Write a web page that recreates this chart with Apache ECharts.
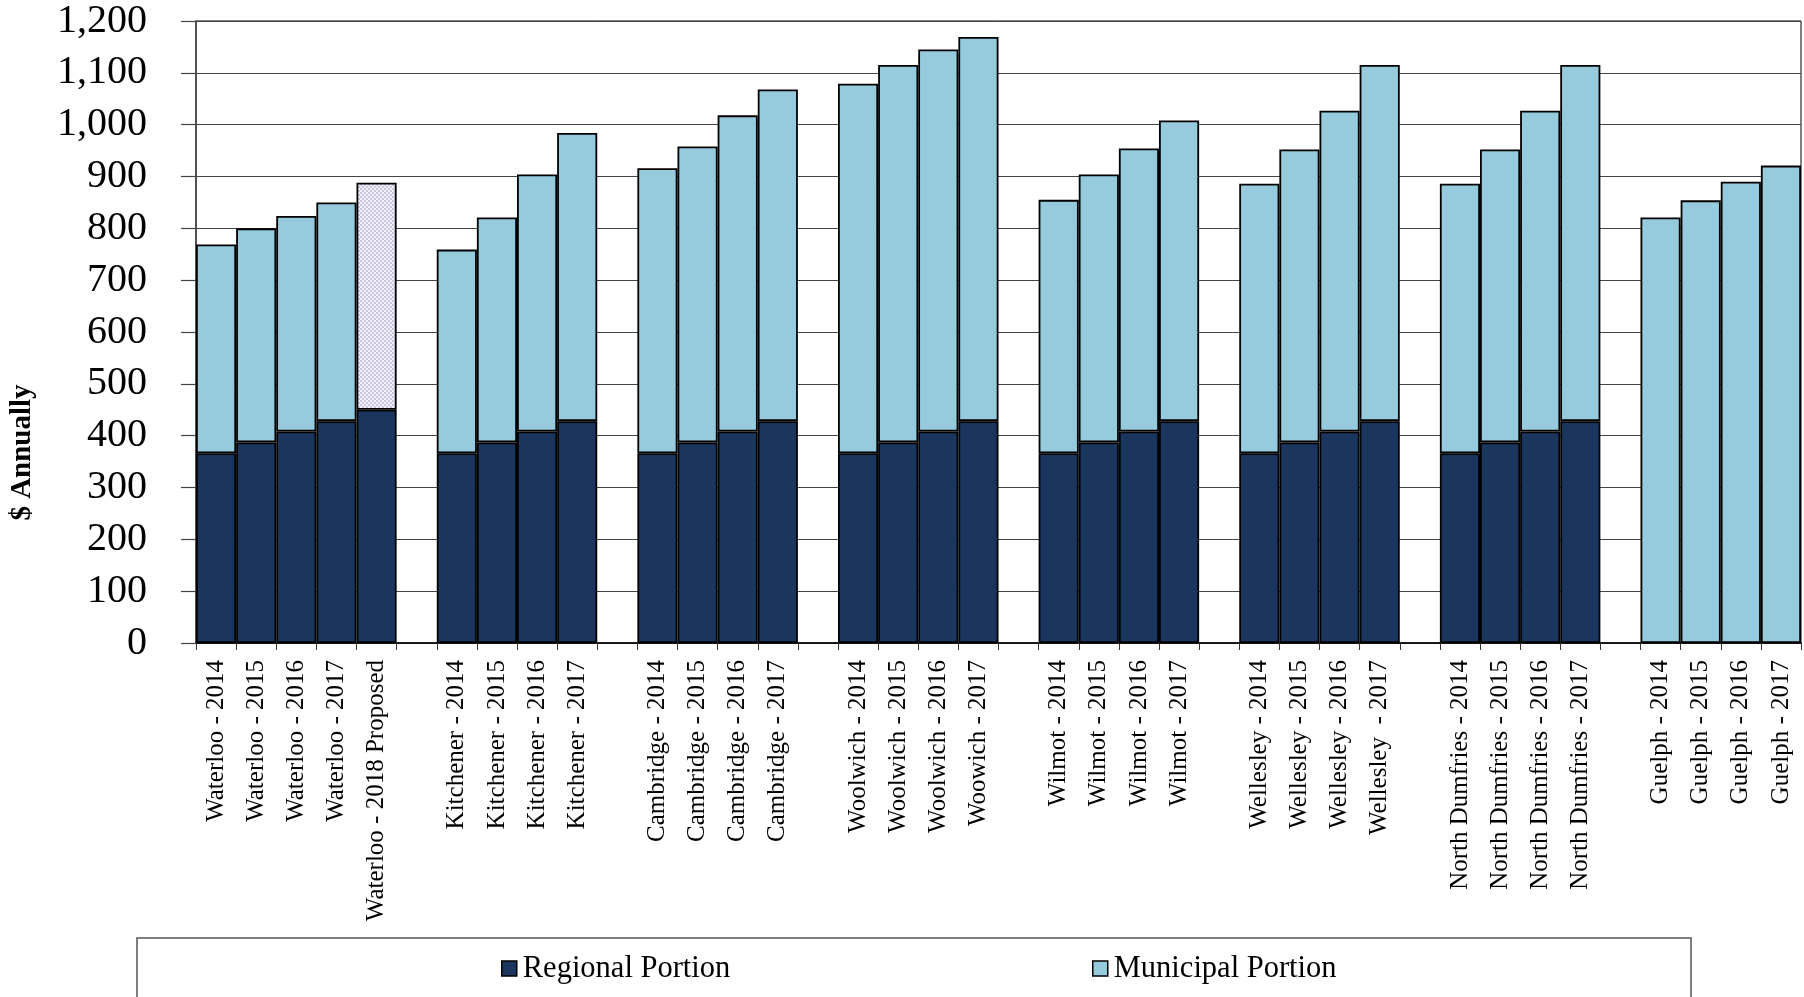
<!DOCTYPE html>
<html>
<head>
<meta charset="utf-8">
<script src="https://cdn.jsdelivr.net/npm/echarts@6/dist/echarts.min.js"></script>
<style>
html,body{margin:0;padding:0;background:#fff;}
#chart{width:1804px;height:997px;}
</style>
</head>
<body>
<div id="chart"></div>
<script>
// ---- Data ----
const categories = [
  'Waterloo - 2014','Waterloo - 2015','Waterloo - 2016','Waterloo - 2017','Waterloo - 2018 Proposed','',
  'Kitchener - 2014','Kitchener - 2015','Kitchener - 2016','Kitchener - 2017','',
  'Cambridge - 2014','Cambridge - 2015','Cambridge - 2016','Cambridge - 2017','',
  'Woolwich - 2014','Woolwich - 2015','Woolwich - 2016','Woowich - 2017','',
  'Wilmot - 2014','Wilmot - 2015','Wilmot - 2016','Wilmot - 2017','',
  'Wellesley - 2014','Wellesley - 2015','Wellesley - 2016','Wellesley  - 2017','',
  'North Dumfries - 2014','North Dumfries - 2015','North Dumfries - 2016','North Dumfries - 2017','',
  'Guelph - 2014','Guelph - 2015','Guelph - 2016','Guelph - 2017'
];
const regionalPortion = [
  366,387,408,428,450,null,
  366,387,408,428,null,
  366,387,408,428,null,
  366,387,408,428,null,
  366,387,408,428,null,
  366,387,408,428,null,
  366,387,408,428,null,
  null,null,null,null
];
const municipalPortion = [
  403,413,416,422,438,null,
  393,434,496,556,null,
  550,571,610,640,null,
  713,728,737,741,null,
  489,517,546,580,null,
  520,565,619,687,null,
  520,565,619,687,null,
  821,854,890,921
];
const proposedIndex = 4;
const yTicks = {min:0, max:1200, interval:100};
const seriesNames = ['Regional Portion','Municipal Portion'];

// ---- Styles ----
const FONT = "'Liberation Serif', 'Times New Roman', serif";
const NAVY = '#1b365e';
const LIGHT = '#95cbdc';

function makePattern(){
  const c = document.createElement('canvas');
  c.width = 4; c.height = 4;
  const g = c.getContext('2d');
  g.fillStyle = '#f3f1f9'; g.fillRect(0,0,4,4);
  g.fillStyle = '#cbc3e3';
  g.fillRect(0,0,2,2); g.fillRect(2,2,2,2);
  return {image: c, repeat: 'repeat'};
}
const pattern = makePattern();

const muniData = municipalPortion.map((v,i)=> i===proposedIndex
  ? {value: v, itemStyle: {color: pattern}} : v);

const chart = echarts.init(document.getElementById('chart'), null, {renderer:'canvas'});
chart.setOption({
  animation: false,
  backgroundColor: '#fff',
  grid: {left: 196, right: 3, top: 21, bottom: 354, show: true, borderColor: '#000', borderWidth: 1, containLabel: false},
  legend: [
    {data: [seriesNames[0]], left: 501, top: 953, padding: 0, itemWidth: 15, itemHeight: 15, itemGap: 0,
     icon: 'rect', itemStyle: {borderColor: '#000', borderWidth: 1.5},
     textStyle: {fontFamily: FONT, fontSize: 30.5, color: '#000', padding: [0,0,0,1]}},
    {data: [seriesNames[1]], left: 1092, top: 953, padding: 0, itemWidth: 15, itemHeight: 15, itemGap: 0,
     icon: 'rect', itemStyle: {borderColor: '#000', borderWidth: 1.5},
     textStyle: {fontFamily: FONT, fontSize: 30.5, color: '#000', padding: [0,0,0,1]}}
  ],
  xAxis: {
    type: 'category',
    data: categories,
    boundaryGap: true,
    axisLine: {show: true, lineStyle: {color: '#000', width: 1.5}},
    axisTick: {show: true, interval: 0, length: 7, lineStyle: {color: '#333', width: 1}},
    axisLabel: {interval: 0, rotate: 90, margin: 17, fontFamily: FONT, fontSize: 25, color: '#000'},
    splitLine: {show: false}
  },
  yAxis: {
    type: 'value',
    min: yTicks.min, max: yTicks.max, interval: yTicks.interval,
    axisLine: {show: true, lineStyle: {color: '#444', width: 1.5}},
    axisTick: {show: true, length: 15, lineStyle: {color: '#444', width: 1.2}},
    axisLabel: {margin: 49, fontFamily: FONT, fontSize: 40, color: '#000',
      formatter: v => v.toLocaleString('en-US')},
    splitLine: {show: true, lineStyle: {color: '#444', width: 1.2}}
  },
  series: [
    {name: seriesNames[0], type: 'bar', stack: 'total', data: regionalPortion,
     barCategoryGap: '0%', barGap: '-100%',
     itemStyle: {color: NAVY, borderColor: '#000', borderWidth: 1.8}},
    {name: seriesNames[1], type: 'bar', stack: 'total', data: muniData,
     barCategoryGap: '0%',
     itemStyle: {color: LIGHT, borderColor: '#000', borderWidth: 1.8}}
  ],
  graphic: [
    {type: 'text', x: 22.5, y: 452.5, rotation: Math.PI/2,
     style: {text: '$ Annually', fontFamily: FONT, fontSize: 29, fontWeight: 'bold', fill: '#000',
       align: 'center', verticalAlign: 'middle'}},
    {type: 'rect', shape: {x: 137, y: 938, width: 1554, height: 100},
     style: {fill: 'none', stroke: '#555', lineWidth: 1.5}, z: -1}
  ]
});
</script>
</body>
</html>
